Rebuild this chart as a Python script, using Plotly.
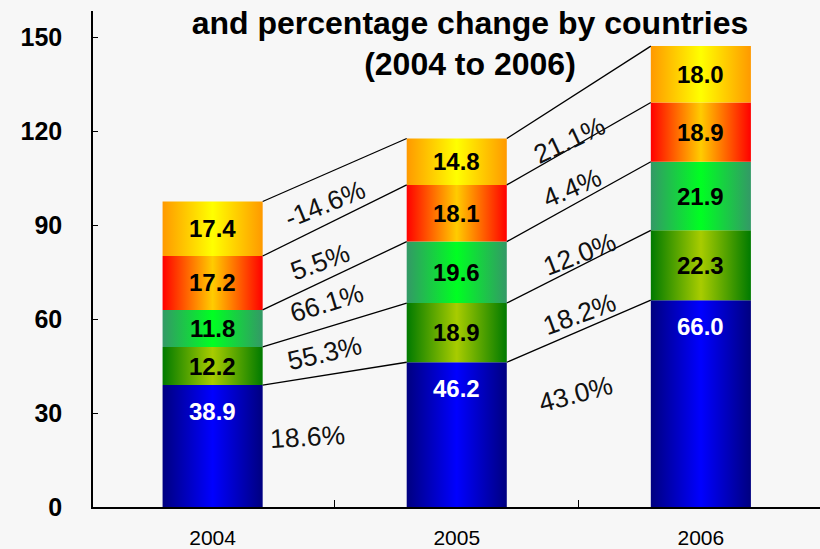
import plotly.graph_objects as go

# ---------------- data ----------------
years = ["2004", "2005", "2006"]
series_names = ["Country A", "Country B", "Country C", "Country D", "Country E"]
s1 = [38.9, 46.2, 66.0]
s2 = [12.2, 18.9, 22.3]
s3 = [11.8, 19.6, 21.9]
s4 = [17.2, 18.1, 18.9]
s5 = [17.4, 14.8, 18.0]
pct_2004_2005 = [18.6, 55.3, 66.1, 5.5, -14.6]
pct_2005_2006 = [43.0, 18.2, 12.0, 4.4, 21.1]
title_lines = ["Value of exports by major partners (US$ billion)",
               "and percentage change by countries",
               "(2004 to 2006)"]
y_ticks = [0, 30, 60, 90, 120, 150]

# ---------------- style ----------------
series = [s1, s2, s3, s4, s5]
pcts = [pct_2004_2005, pct_2005_2006]
edge_colors = ["#000080", "#007a00", "#339966", "#ff0000", "#ff9900"]
center_colors = ["#0000ff", "#a8cc00", "#00ff22", "#ffcc00", "#ffff00"]
label_colors = ["white", "black", "black", "black", "black"]
BW = 0.41
FONT = "Liberation Sans, Arial, sans-serif"
# label placement: horizontal offset from left bar, fraction within band, text angle
pct_dx = [[0.39, 0.46, 0.467, 0.44, 0.46], [0.488, 0.504, 0.504, 0.471, 0.463]]
pct_frac = [[0.54, 0.48, 0.52, 0.375, 0.42], [0.65, 0.26, 0.19, 0.30, 0.17]]
pct_ang = [[-3, -13, -17, -20, -22], [-15, -20, -21, -23, -25]]

n = len(years)
xs = list(range(n))
bases = []
tops = []
for k, s in enumerate(series):
    b = [0.0] * n if k == 0 else tops[-1]
    bases.append(b)
    tops.append([b[i] + s[i] for i in range(n)])

fig = go.Figure()

# gradient bar segments
for k, s in enumerate(series):
    for i in range(n):
        x0, x1 = xs[i] - BW / 2, xs[i] + BW / 2
        y0, y1 = bases[k][i], tops[k][i]
        fig.add_trace(go.Scatter(
            x=[x0, x1, x1, x0, x0], y=[y0, y0, y1, y1, y0],
            mode="lines", line=dict(width=0), fill="toself",
            fillgradient=dict(type="horizontal",
                              colorscale=[[0, edge_colors[k]], [0.5, center_colors[k]], [1, edge_colors[k]]]),
            name=series_names[k], showlegend=False, hoverinfo="skip"))

# connector lines
cx, cy = [], []
for k in range(len(series)):
    for i in range(n - 1):
        cx += [xs[i] + BW / 2, xs[i + 1] - BW / 2, None]
        cy += [tops[k][i], tops[k][i + 1], None]
fig.add_trace(go.Scatter(x=cx, y=cy, mode="lines", line=dict(color="black", width=1.3),
                         showlegend=False, hoverinfo="skip"))

annotations = []
# value labels
for k, s in enumerate(series):
    for i in range(n):
        if k == 0:
            annotations.append(dict(x=xs[i], y=tops[k][i], yanchor="top", yshift=-11,
                                    text=f"{s[i]:.1f}", showarrow=False,
                                    font=dict(family=FONT, size=24, color=label_colors[k], weight="bold")))
        else:
            annotations.append(dict(x=xs[i], y=(bases[k][i] + tops[k][i]) / 2,
                                    text=f"{s[i]:.1f}", showarrow=False,
                                    font=dict(family=FONT, size=24, color=label_colors[k], weight="bold")))

# percentage labels
for g in range(n - 1):
    for k in range(len(series)):
        dx = pct_dx[g][k]
        t = (dx - BW / 2) / (1 - BW)
        upper = tops[k][g] + t * (tops[k][g + 1] - tops[k][g])
        lower = 0.0 if k == 0 else bases[k][g] + t * (bases[k][g + 1] - bases[k][g])
        yv = lower + pct_frac[g][k] * (upper - lower)
        annotations.append(dict(x=xs[g] + dx, y=yv, text=f"{pcts[g][k]:.1f}%", showarrow=False,
                                textangle=pct_ang[g][k],
                                font=dict(family=FONT, size=26.5, color="#111111")))

# title (first line falls outside the top of the page)
annotations.append(dict(xref="paper", yref="paper", x=0.5186, y=0.853, xanchor="center", yanchor="bottom",
                        text="<br>".join(title_lines), showarrow=False, align="center",
                        font=dict(family=FONT, size=32, color="black", weight="bold")))

fig.update_layout(
    width=820, height=549,
    margin=dict(l=93, r=0, t=11, b=42),
    paper_bgcolor="#f7f7f7", plot_bgcolor="#f7f7f7",
    showlegend=False,
    annotations=annotations,
    xaxis=dict(range=[-0.49, 2.488], tickvals=xs, ticktext=years, ticks="", showgrid=False,
               zeroline=False, showline=True, linecolor="black", linewidth=1.5,
               tickfont=dict(family=FONT, size=21, color="black"), ticklabelstandoff=11,
               minor=dict(tickvals=[0.5, 1.5], ticks="inside", ticklen=7, tickcolor="black", tickwidth=1),
               fixedrange=True, automargin=False),
    yaxis=dict(range=[0, 158.3], tickvals=y_ticks, ticks="inside", ticklen=5, tickcolor="black",
               showgrid=False, zeroline=False, showline=True, linecolor="black", linewidth=1.5,
               tickfont=dict(family=FONT, size=25, color="black", weight="bold"), ticklabelstandoff=24,
               fixedrange=True, automargin=False),
)

fig.write_html("out.html", config={"displayModeBar": False},
               post_script="document.body.style.margin='0';document.body.style.background='#f7f7f7';")
